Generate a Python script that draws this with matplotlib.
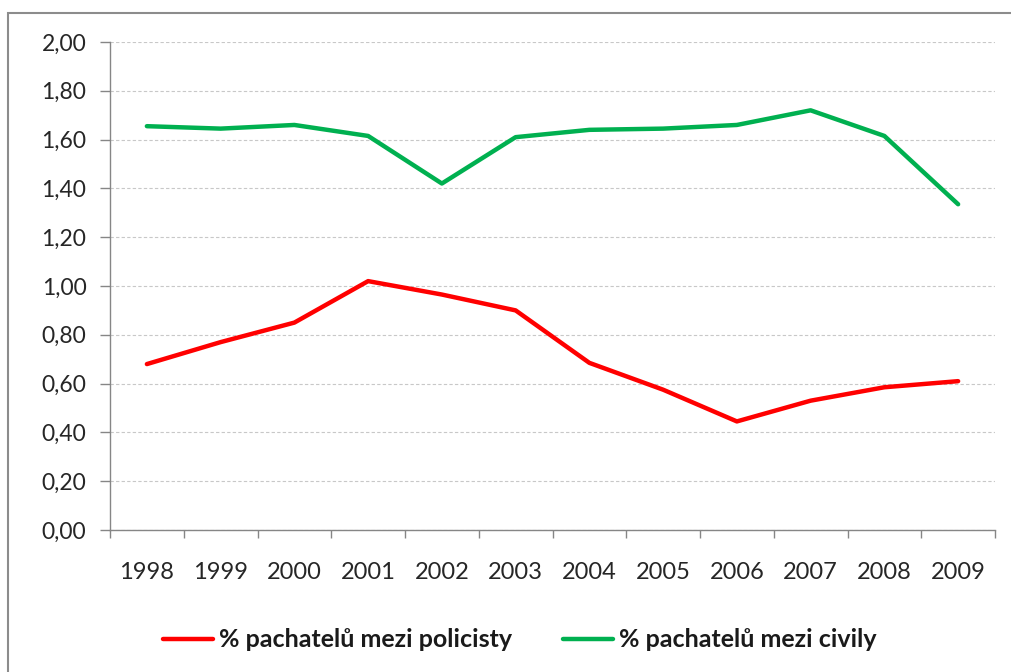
import matplotlib.pyplot as plt
from matplotlib.patches import Rectangle
from matplotlib.ticker import FixedLocator, FuncFormatter

roky = ["1998", "1999", "2000", "2001", "2002", "2003",
        "2004", "2005", "2006", "2007", "2008", "2009"]
policiste = [0.68, 0.77, 0.85, 1.02, 0.965, 0.90, 0.685, 0.575, 0.445, 0.53, 0.585, 0.61]
civilove = [1.655, 1.645, 1.66, 1.615, 1.42, 1.61, 1.64, 1.645, 1.66, 1.72, 1.615, 1.335]

text_color = "#262626"
axis_color = "#868686"

plt.rcParams["font.family"] = ["Lato", "DejaVu Sans"]

fig = plt.figure(figsize=(10.11, 6.72), dpi=100)
fig.patch.set_facecolor("white")

# ramecek grafu
fig.patches.append(Rectangle((8 / 1011, -0.1), 1.2, 1 - 13 / 672 + 0.1,
                             transform=fig.transFigure, fill=False,
                             edgecolor="#8c8c8c", linewidth=1.5))

ax = fig.add_axes([110 / 1011, 1 - 530 / 672, 885 / 1011, 488 / 672])

x = list(range(len(roky)))
ax.plot(x, policiste, color="#ff0000", linewidth=3.2, solid_capstyle="round",
        solid_joinstyle="round", label="% pachatelů mezi policisty", zorder=3)
ax.plot(x, civilove, color="#00b050", linewidth=3.2, solid_capstyle="round",
        solid_joinstyle="round", label="% pachatelů mezi civily", zorder=3)

ax.set_xlim(-0.5, len(roky) - 0.5)
ax.set_ylim(0, 2.0)

ax.set_yticks([i * 0.2 for i in range(11)])
ax.yaxis.set_major_formatter(FuncFormatter(lambda v, p: f"{v:.2f}".replace(".", ",")))
ax.grid(axis="y", color="#c8c8c8", linestyle=(0, (3, 2)), linewidth=0.8, zorder=0)

ax.set_xticks(x)
ax.set_xticklabels(roky)
ax.xaxis.set_minor_locator(FixedLocator([i - 0.5 for i in range(len(roky) + 1)]))
ax.tick_params(axis="x", which="major", length=0, pad=23, labelsize=17, colors=text_color)
ax.tick_params(axis="x", which="minor", length=6, width=1, color=axis_color)
ax.tick_params(axis="y", length=7, width=1, color=axis_color, labelsize=16.5,
               colors=text_color, pad=10)

for s in ["top", "right"]:
    ax.spines[s].set_visible(False)
for s in ["left", "bottom"]:
    ax.spines[s].set_color(axis_color)
    ax.spines[s].set_linewidth(1)

leg = ax.legend(loc="center", bbox_to_anchor=(0.463, -0.225), ncol=2, frameon=False,
                handlelength=2.0, handletextpad=0.25, columnspacing=2.0,
                prop={"size": 18, "weight": "bold"})
for t in leg.get_texts():
    t.set_color("#1a1a1a")

fig.savefig("out.png", dpi=100, facecolor="white")
